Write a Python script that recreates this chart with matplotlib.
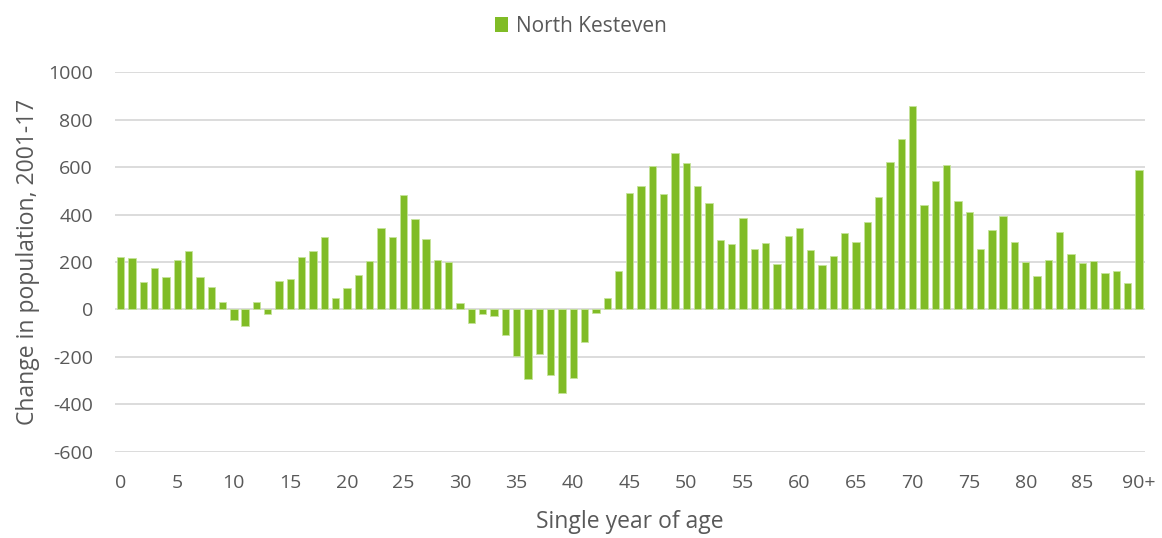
import numpy as np
import matplotlib
matplotlib.use("Agg")
import matplotlib.pyplot as plt
from matplotlib.patches import Patch

# change in population 2001-17 by single year of age (0..89, 90+)
ages = [str(a) for a in range(90)] + ["90+"]
change = [
    221, 216, 116, 176, 138, 210, 248, 136, 94, 31,
    -45, -70, 31, -20, 122, 128, 221, 248, 306, 48,
    92, 146, 204, 345, 306, 484, 380, 299, 208, 199,
    27, -55, -18, -26, -108, -194, -292, -186, -275, -352,
    -287, -139, -13, 48, 162, 489, 519, 606, 488, 660,
    618, 522, 447, 291, 274, 384, 255, 281, 190, 308,
    345, 250, 187, 227, 321, 285, 370, 475, 623, 719,
    857, 441, 542, 610, 458, 409, 255, 336, 392, 284,
    201, 142, 208, 326, 233, 197, 204, 153, 163, 112,
    587,
]
series_name = "North Kesteven"

green = "#80BC26"
text_col = "#595959"
grid_col = "#D9D9D9"

plt.rcParams["font.family"] = ["Open Sans", "DejaVu Sans"]
plt.rcParams["axes.unicode_minus"] = False

fig = plt.figure(figsize=(11.62, 5.38), dpi=100)
ax = fig.add_axes([0.099, 0.16, 0.886, 0.706])

x = np.arange(len(ages))
ax.bar(x, change, width=0.65, color=green, edgecolor="#C5E39A", linewidth=0.6, zorder=3)

ax.set_xlim(-0.5, len(ages) - 0.5)
ax.set_ylim(-600, 1000)
ax.set_yticks(range(-600, 1001, 200))
ax.yaxis.grid(True, color=grid_col, linewidth=1.3, zorder=0)
ax.set_axisbelow(True)

tick_pos = list(range(0, 91, 5))
ax.set_xticks(tick_pos)
ax.set_xticklabels([ages[i] for i in tick_pos])
ax.tick_params(axis="both", length=0, labelsize=14, colors=text_col)
ax.tick_params(axis="x", pad=16)
ax.tick_params(axis="y", pad=16)

for s in ax.spines.values():
    s.set_visible(False)

ax.set_xlabel("Single year of age", fontsize=16.5, color=text_col, labelpad=13)
ax.set_ylabel("Change in population, 2001-17", fontsize=16.5, color=text_col, labelpad=6)

fig.legend(handles=[Patch(facecolor=green, label=series_name)], loc="upper center",
           bbox_to_anchor=(0.5, 1.005), frameon=False, fontsize=15,
           handlelength=0.6, handleheight=0.7, handletextpad=0.4, labelcolor=text_col)

fig.savefig("out.png", dpi=100)
